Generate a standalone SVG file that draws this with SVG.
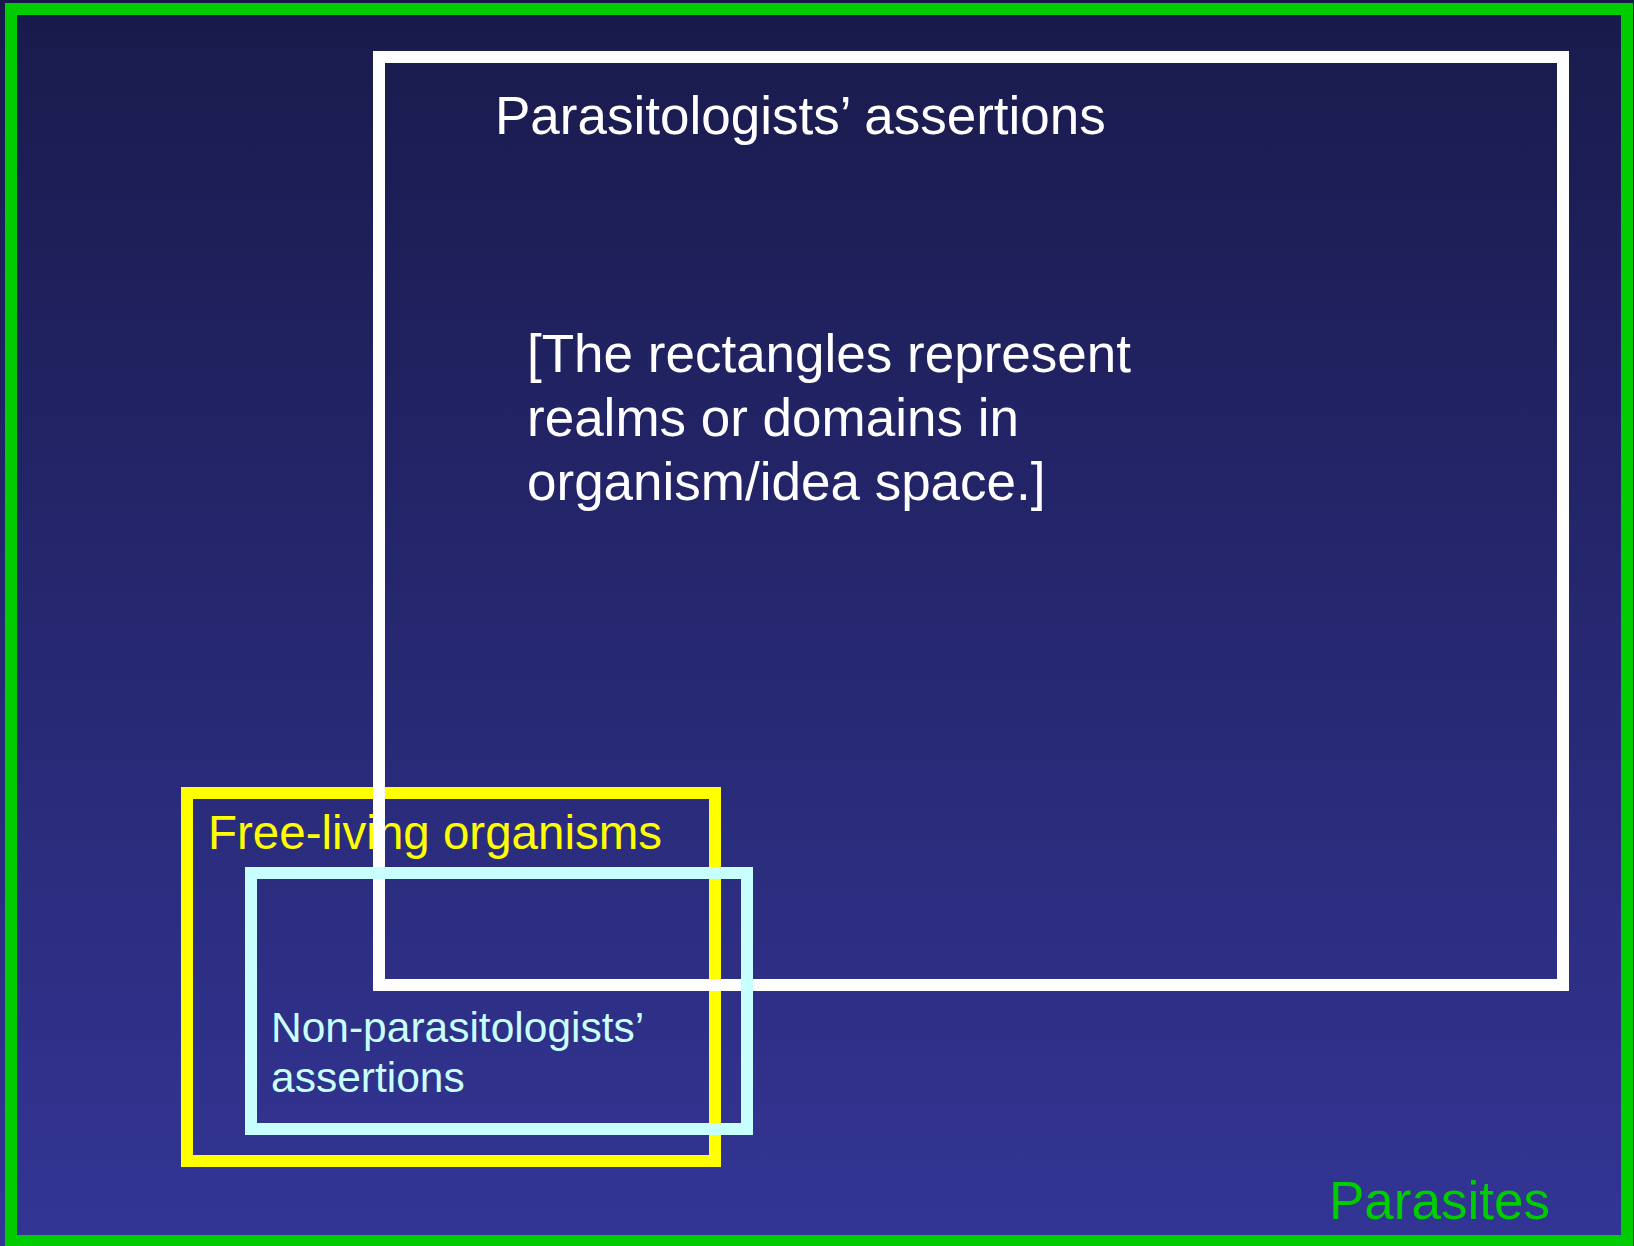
<svg xmlns="http://www.w3.org/2000/svg" width="1634" height="1246" viewBox="0 0 1634 1246">
  <defs>
    <linearGradient id="bg" x1="0" y1="0" x2="0" y2="1">
      <stop offset="0" stop-color="#191a4b"/>
      <stop offset="1" stop-color="#333595"/>
    </linearGradient>
  </defs>
  <style>
    .box { fill: none; stroke-width: 12; }
    .t { font-family: "Liberation Sans", Arial, sans-serif; }
  </style>
  <rect x="0" y="0" width="1634" height="1246" fill="url(#bg)"/>
  <g id="parasites">
    <rect class="box" x="11" y="9" width="1616" height="1232" stroke="#00cc00"/>
    <text class="t" x="1329" y="1219" font-size="53" fill="#00cc00">Parasites</text>
  </g>
  <g id="free-living">
    <rect class="box" x="187" y="793" width="528" height="368" stroke="#ffff00"/>
    <text class="t" x="208" y="849" font-size="47.5" fill="#ffff00">Free-living organisms</text>
  </g>
  <g id="parasitologists">
    <rect class="box" x="379" y="57" width="1184" height="928" stroke="#ffffff"/>
    <text class="t" x="495" y="134" font-size="53" fill="#ffffff">Parasitologists’ assertions</text>
  </g>
  <g id="note">
    <text class="t" font-size="53" fill="#ffffff">
      <tspan x="527" y="372">[The rectangles represent</tspan>
      <tspan x="527" y="436">realms or domains in</tspan>
      <tspan x="527" y="500">organism/idea space.]</tspan>
    </text>
  </g>
  <g id="non-parasitologists">
    <rect class="box" x="251" y="873" width="496" height="256" stroke="#c8ffff"/>
    <text class="t" font-size="42.5" fill="#c8ffff">
      <tspan x="271" y="1042">Non-parasitologists’</tspan>
      <tspan x="271" y="1092">assertions</tspan>
    </text>
  </g>
  <g id="connectors"/>
</svg>
